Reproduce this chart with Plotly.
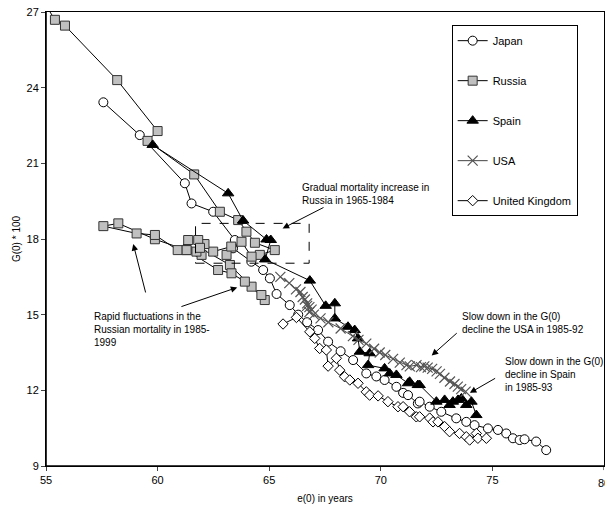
import plotly.graph_objects as go

# ---------------- data ----------------
japan_e0 = [57.57, 59.20, 61.22, 61.52, 62.49, 63.46, 63.38, 64.20, 64.73, 65.03, 65.33, 65.92,
            66.30, 66.70, 67.19, 67.64, 68.20, 68.76, 69.35, 69.80, 70.17, 70.70, 71.00, 71.22,
            71.66, 71.74, 72.19, 72.71, 73.38, 73.83, 74.20, 74.80, 75.25, 75.62, 75.92, 76.22,
            76.44, 76.96, 77.41]
japan_g = [23.42, 22.12, 20.21, 19.41, 19.08, 17.96, 17.63, 17.10, 16.77, 16.44, 15.82, 15.38,
           15.00, 14.70, 14.39, 13.93, 13.55, 13.20, 12.67, 12.55, 12.41, 12.14, 11.90, 11.81,
           11.48, 11.55, 11.35, 11.15, 10.89, 10.75, 10.62, 10.49, 10.43, 10.29, 10.10, 10.03,
           10.06, 9.97, 9.63]

russia_e0 = [54.90, 55.40, 55.85, 58.19, 60.00, 59.55, 61.64, 62.79, 63.61, 63.98, 64.36, 65.25,
             64.58, 64.21, 63.76, 63.09, 63.30, 62.49, 62.10, 61.97, 61.82, 61.74, 61.90, 63.24,
             64.21, 64.80, 64.65, 63.91, 63.31, 62.71, 61.30, 59.88, 58.24, 57.57, 59.06, 59.88,
             60.90, 61.37, 61.30]
russia_g = [27.40, 26.69, 26.46, 24.30, 22.28, 21.89, 20.56, 19.08, 18.75, 18.29, 17.85, 17.56,
            17.37, 17.30, 17.89, 17.37, 17.70, 17.50, 17.80, 17.37, 17.96, 17.50, 17.65, 16.97,
            16.11, 15.58, 15.78, 16.31, 16.64, 16.77, 17.56, 17.99, 18.62, 18.51, 18.22, 18.16,
            17.56, 17.96, 17.56]

spain_e0 = [59.78, 63.16, 63.83, 64.88, 65.07, 64.82, 66.82, 67.53, 67.94, 67.94, 68.53, 68.83,
            68.98, 69.06, 69.50, 69.43, 70.17, 70.40, 70.70, 71.22, 71.29, 71.66, 71.74, 72.49,
            72.86, 73.08, 73.23, 73.46, 73.61, 73.83, 74.06, 74.28]
spain_g = [21.73, 19.81, 18.73, 17.98, 17.96, 17.19, 16.35, 15.35, 15.45, 14.85, 14.52, 14.39,
           14.06, 13.53, 13.47, 13.00, 12.87, 12.67, 12.61, 12.28, 12.34, 12.21, 12.21, 11.55,
           11.62, 11.42, 11.55, 11.62, 11.68, 11.42, 11.55, 11.02]

usa_e0 = [65.50, 65.90, 66.20, 66.40, 66.50, 66.60, 66.70, 66.80, 66.90, 66.70, 66.80, 67.00,
          67.30, 67.65, 68.20, 68.75, 69.00, 69.35, 69.70, 69.95, 70.20, 70.55, 70.85, 71.15,
          71.30, 71.60, 71.80, 71.95, 72.10, 72.30, 72.50, 72.65, 72.85, 73.10, 73.30, 73.45,
          73.60, 73.80]
usa_g = [16.50, 16.25, 16.00, 15.90, 15.70, 15.60, 15.45, 15.30, 15.20, 15.35, 15.10, 15.00,
         14.85, 14.70, 14.45, 14.15, 14.00, 13.85, 13.65, 13.50, 13.40, 13.25, 13.10, 13.00,
         12.95, 13.00, 12.92, 12.95, 12.90, 12.85, 12.75, 12.65, 12.50, 12.35, 12.25, 12.15,
         12.05, 11.95]

uk_e0 = [65.62, 66.22, 66.82, 67.04, 67.26, 67.56, 67.64, 68.01, 68.16, 68.38, 68.61, 68.98,
         69.35, 69.50, 69.88, 70.32, 70.77, 71.00, 71.29, 71.59, 71.74, 72.19, 72.34, 72.56,
         72.86, 73.08, 73.53, 73.83, 73.98, 74.28, 74.35, 74.73]
uk_g = [14.63, 14.89, 14.32, 14.06, 13.66, 13.60, 12.96, 13.27, 12.80, 12.54, 12.41, 12.28,
        11.94, 11.81, 11.78, 11.55, 11.35, 11.35, 11.15, 10.95, 10.95, 10.90, 10.75, 10.75,
        10.56, 10.36, 10.29, 10.16, 10.03, 10.29, 10.10, 10.10]

x_ticks = [55, 60, 65, 70, 75, 80]
y_ticks = [9, 12, 15, 18, 21, 24, 27]

FONT = "Arial, 'Liberation Sans', sans-serif"

fig = go.Figure()

series = [
    ("Japan", japan_e0, japan_g, dict(symbol="circle", size=9, color="white",
                                      line=dict(color="black", width=1)), "black"),
    ("Russia", russia_e0, russia_g, dict(symbol="square", size=9, color="#c0c0c0",
                                         line=dict(color="#333333", width=1)), "black"),
    ("Spain", spain_e0, spain_g, dict(symbol="triangle-up", size=10, color="black",
                                      line=dict(color="black", width=1)), "black"),
    ("USA", usa_e0, usa_g, dict(symbol="x-thin", size=10, color="#555555",
                                line=dict(color="#555555", width=1.2)), "#444444"),
    ("United Kingdom", uk_e0, uk_g, dict(symbol="diamond", size=8, color="white",
                                         line=dict(color="black", width=1)), "black"),
]
for name, xs, ys, mk, lc in series:
    fig.add_trace(go.Scatter(x=xs, y=ys, name=name, mode="lines+markers",
                             line=dict(color=lc, width=1), marker=mk,
                             legendgroup=name))

# dashed box
fig.add_shape(type="rect", xref="x", yref="y", x0=61.70, x1=66.79, y0=17.04, y1=18.62,
              line=dict(color="black", width=1, dash="dash"))

ann_font = dict(family=FONT, size=10, color="black")
texts = [
    (66.38, 19.78, "Gradual mortality increase in<br>Russia in 1965-1984"),
    (57.05, 14.40, "Rapid fluctuations in the<br>Russian mortality in 1985-<br>1999"),
    (73.55, 14.65, "Slow down in the G(0)<br>decline the USA in 1985-92"),
    (75.47, 12.61, "Slow down in the G(0)<br>decline in Spain<br>in 1985-93"),
]
for x, y, t in texts:
    fig.add_annotation(x=x, y=y, text=t, showarrow=False, xanchor="left", yanchor="middle",
                       align="left", font=ann_font)

arrows = [
    (65.60, 18.42, 67.50, 19.28),
    (58.91, 17.80, 59.48, 15.82),
    (63.57, 16.08, 61.00, 15.30),
    (72.28, 13.38, 73.47, 14.32),
    (73.99, 11.90, 75.19, 12.51),
]
for hx, hy, tx, ty in arrows:
    fig.add_annotation(x=hx, y=hy, ax=tx, ay=ty, xref="x", yref="y", axref="x", ayref="y",
                       text="", showarrow=True, arrowhead=2, arrowsize=1.3, arrowwidth=1,
                       arrowcolor="black")

# last x tick label, partially cut by the page edge as in the reference
fig.add_annotation(x=80, y=0, xref="x", yref="paper", yshift=-17, text="80",
                   showarrow=False, xanchor="center", yanchor="middle",
                   font=dict(family=FONT, size=11, color="black"))

fig.update_layout(
    width=605, height=507,
    margin=dict(l=46, r=1, t=12, b=41),
    paper_bgcolor="white", plot_bgcolor="white",
    font=dict(family=FONT, size=11, color="black"),
    legend=dict(x=0.727, y=0.971, xanchor="left", yanchor="top",
                bordercolor="black", borderwidth=1, bgcolor="white",
                font=dict(family=FONT, size=11), tracegroupgap=21,
                traceorder="grouped"),
    xaxis=dict(range=[55, 80], tickvals=x_ticks[:-1], ticks="outside", ticklen=4,
               showgrid=False, zeroline=False, showline=True, linecolor="black",
               linewidth=1, mirror=True,
               title=dict(text="e(0) in years", font=dict(size=10), standoff=9)),
    yaxis=dict(range=[9, 27], tickvals=y_ticks, ticks="outside", ticklen=4,
               showgrid=False, zeroline=False, showline=True, linecolor="black",
               linewidth=1, mirror=True,
               title=dict(text="G(0) * 100", font=dict(size=10), standoff=4)),
)
# tick mark at 80 and slightly heavier left/bottom axis lines
fig.add_shape(type="line", xref="x", yref="paper", x0=80, x1=80, y0=0, y1=-0.009,
              line=dict(color="black", width=1))
fig.add_shape(type="line", xref="paper", yref="paper", x0=0, x1=0, y0=0, y1=1,
              line=dict(color="black", width=1.6))
fig.add_shape(type="line", xref="paper", yref="paper", x0=0, x1=1, y0=0, y1=0,
              line=dict(color="black", width=1.6))

fig.write_html("out.html")
